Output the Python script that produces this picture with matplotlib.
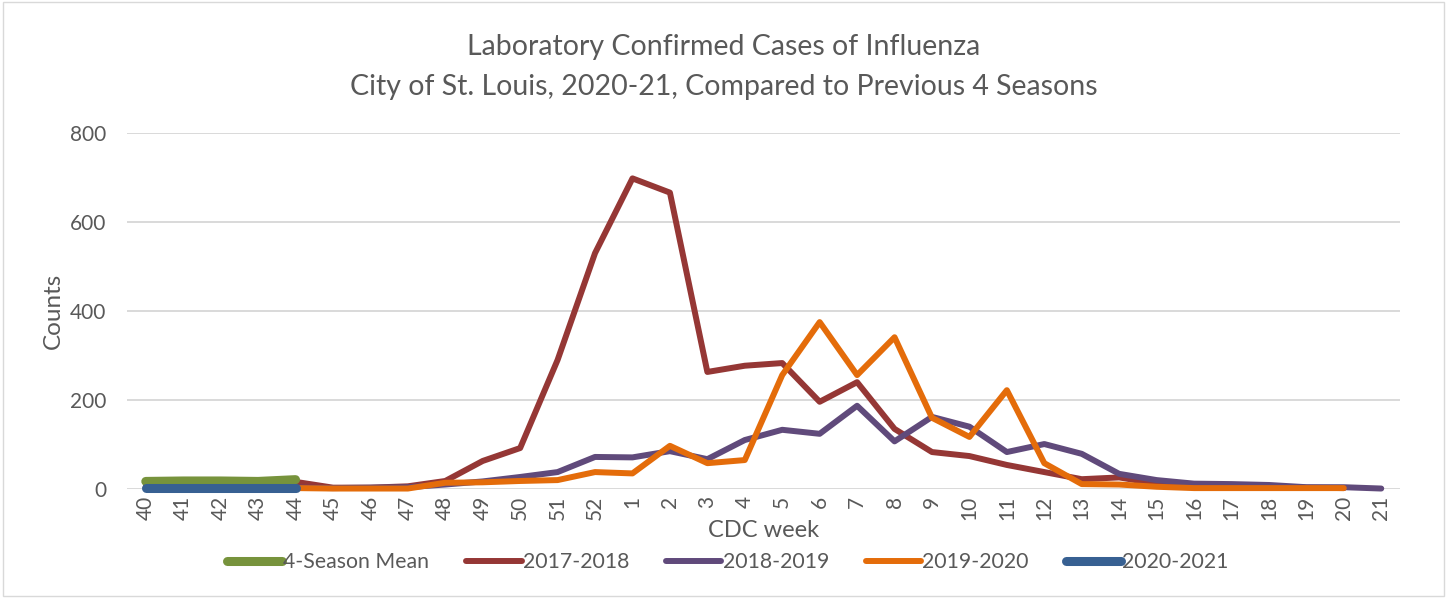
import numpy as np
import matplotlib
matplotlib.use('Agg')
import matplotlib.pyplot as plt

# ── Data ──────────────────────────────────────────────────────────────────────

weeks = [str(w) for w in list(range(40, 53)) + list(range(1, 22))]
nan = np.nan

mean_4season = [17, 18, 18, 17, 21] + [nan] * 29
s2017_18 = [5, 8, 10, 12, 16, 3, 3, 6, 18, 63, 92, 290, 530, 698, 666, 263, 277,
            283, 196, 240, 135, 83, 74, 54, 38, 22, 26, 12, 8, 6, 6, 3, 2, nan]
s2018_19 = [3, 3, 3, 3, 3, 2, 3, 4, 10, 17, 27, 38, 72, 71, 85, 67, 110,
            133, 124, 187, 107, 162, 140, 83, 101, 79, 34, 20, 12, 11, 9, 4, 4, 1]
s2019_20 = [2, 2, 2, 2, 2, 1, 1, 1, 14, 15, 18, 20, 38, 35, 97, 58, 65,
            256, 375, 256, 341, 160, 117, 222, 58, 11, 10, 5, 2, 2, 2, 2, 2, nan]
s2020_21 = [3, 3, 3, 3, 3] + [nan] * 29

# label, values, colour, line width, stacking order
series = [
    ('4-Season Mean', mean_4season, '#77933C', 6.5, 4),
    ('2017-2018', s2017_18, '#953735', 4.3, 2),
    ('2018-2019', s2018_19, '#604A7B', 4.3, 2),
    ('2019-2020', s2019_20, '#E46C0A', 4.3, 3),
    ('2020-2021', s2020_21, '#376092', 6.5, 5),
]

# ── Plot ──────────────────────────────────────────────────────────────────────

plt.rcParams['font.family'] = ['Lato', 'DejaVu Sans']
text_col = '#595959'

fig = plt.figure(figsize=(14.47, 5.98), dpi=100)
ax = fig.add_axes([0.0878, 0.1823, 0.8797, 0.5953])

x = np.arange(len(weeks))
for label, vals, col, lw, z in series:
    ax.plot(x, vals, color=col, linewidth=lw, label=label, clip_on=False,
            zorder=z, solid_capstyle='round', solid_joinstyle='round')

ax.set_xlim(-0.5, len(weeks) - 0.5)
ax.set_ylim(0, 800)
ax.set_yticks([0, 200, 400, 600, 800])
ax.set_xticks(x)
ax.set_xticklabels(weeks, rotation=90)
ax.tick_params(axis='both', length=0, labelsize=15, labelcolor=text_col)
ax.tick_params(axis='y', pad=15)
ax.tick_params(axis='x', pad=5)
ax.grid(axis='y', color='#d9d9d9', linewidth=1.4)
ax.set_axisbelow(True)
for s in ax.spines.values():
    s.set_visible(False)

ax.set_ylabel('Counts', fontsize=17.5, color=text_col, labelpad=4)
ax.set_xlabel('CDC week', fontsize=17, color=text_col, labelpad=0)

fig.text(0.5, 0.921, 'Laboratory Confirmed Cases of Influenza',
         ha='center', va='center', fontsize=20.5, color=text_col)
fig.text(0.5, 0.855, 'City of St. Louis, 2020-21, Compared to Previous 4 Seasons',
         ha='center', va='center', fontsize=20.5, color=text_col)

leg = fig.legend(loc='center', bbox_to_anchor=(0.503, 0.06), ncol=5,
                 frameon=False, fontsize=15.3, labelcolor=text_col,
                 handlelength=2.6, handletextpad=0.05, columnspacing=1.75)

# light border round the chart area
fig.patches.append(plt.Rectangle((0.002, 0.003), 0.996, 0.994,
                                 transform=fig.transFigure, fill=False,
                                 edgecolor='#d9d9d9', linewidth=1))

fig.savefig('out.png', dpi=100)
plt.close()
